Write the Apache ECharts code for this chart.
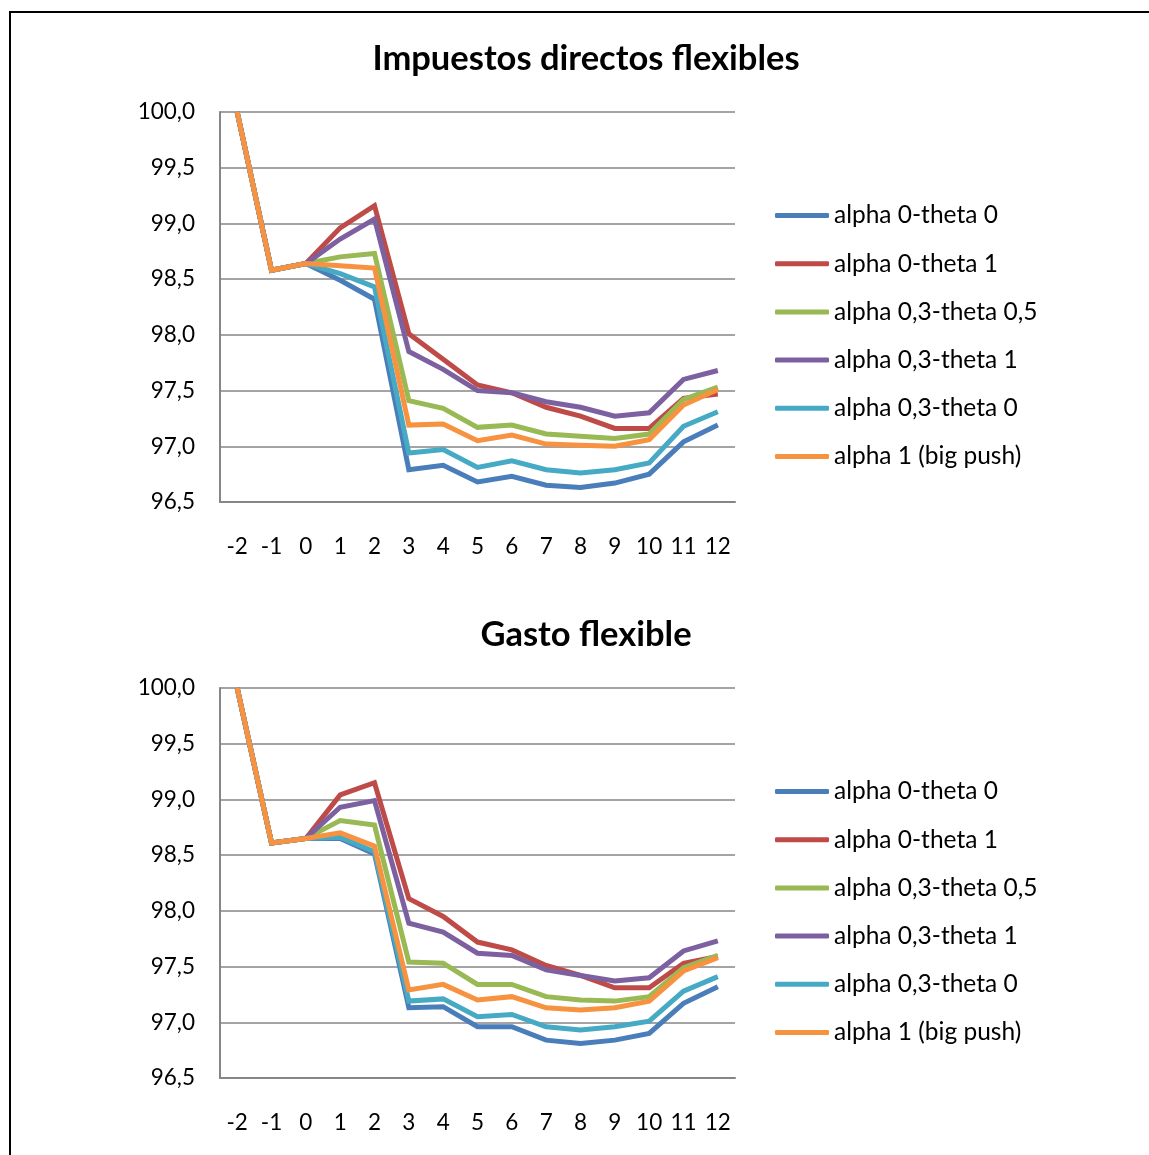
<!DOCTYPE html>
<html>
<head>
<meta charset="utf-8">
<script src="https://cdn.jsdelivr.net/npm/echarts@6/dist/echarts.min.js"></script>
<style>
  html, body { margin: 0; padding: 0; background: #ffffff; }
  #chart { width: 1149px; height: 1155px; }
</style>
</head>
<body>
<div id="chart"></div>
<script>
// Periods on the horizontal axis
const periods = ['-2', '-1', '0', '1', '2', '3', '4', '5', '6', '7', '8', '9', '10', '11', '12'];

const seriesNames = [
  'alpha 0-theta 0',
  'alpha 0-theta 1',
  'alpha 0,3-theta 0,5',
  'alpha 0,3-theta 1',
  'alpha 0,3-theta 0',
  'alpha 1 (big push)'
];

// Chart 1: Impuestos directos flexibles
const taxA0T0   = [100, 98.58, 98.64, 98.49, 98.32, 96.79, 96.83, 96.68, 96.73, 96.65, 96.63, 96.67, 96.75, 97.04, 97.19];
const taxA0T1   = [100, 98.58, 98.64, 98.96, 99.16, 98.01, 97.78, 97.55, 97.48, 97.35, 97.27, 97.16, 97.16, 97.43, 97.47];
const taxA03T05 = [100, 98.58, 98.64, 98.70, 98.73, 97.41, 97.34, 97.17, 97.19, 97.11, 97.09, 97.07, 97.11, 97.42, 97.53];
const taxA03T1  = [100, 98.58, 98.64, 98.86, 99.04, 97.85, 97.69, 97.50, 97.48, 97.40, 97.35, 97.27, 97.30, 97.60, 97.68];
const taxA03T0  = [100, 98.58, 98.64, 98.55, 98.43, 96.94, 96.97, 96.81, 96.87, 96.79, 96.76, 96.79, 96.85, 97.18, 97.31];
const taxA1     = [100, 98.58, 98.64, 98.62, 98.60, 97.19, 97.20, 97.05, 97.10, 97.02, 97.01, 97.00, 97.06, 97.37, 97.51];

// Chart 2: Gasto flexible
const spendA0T0   = [100, 98.61, 98.65, 98.65, 98.51, 97.13, 97.14, 96.96, 96.96, 96.84, 96.81, 96.84, 96.90, 97.17, 97.32];
const spendA0T1   = [100, 98.61, 98.65, 99.04, 99.15, 98.11, 97.95, 97.72, 97.65, 97.51, 97.42, 97.31, 97.31, 97.53, 97.59];
const spendA03T05 = [100, 98.61, 98.65, 98.81, 98.77, 97.54, 97.53, 97.34, 97.34, 97.23, 97.20, 97.19, 97.23, 97.49, 97.60];
const spendA03T1  = [100, 98.61, 98.65, 98.93, 98.99, 97.89, 97.81, 97.62, 97.60, 97.47, 97.42, 97.37, 97.40, 97.64, 97.73];
const spendA03T0  = [100, 98.61, 98.65, 98.66, 98.53, 97.19, 97.21, 97.05, 97.07, 96.96, 96.93, 96.96, 97.01, 97.28, 97.41];
const spendA1     = [100, 98.61, 98.65, 98.70, 98.58, 97.29, 97.34, 97.20, 97.23, 97.13, 97.11, 97.13, 97.19, 97.46, 97.58];

// Y axis range and step
const yMin = 96.5, yMax = 100, yStep = 0.5;

const taxData   = [taxA0T0, taxA0T1, taxA03T05, taxA03T1, taxA03T0, taxA1];
const spendData = [spendA0T0, spendA0T1, spendA03T05, spendA03T1, spendA03T0, spendA1];

const colors = ['#4A7EBB', '#BE4B48', '#98B954', '#7D60A0', '#46AAC5', '#F69240'];
const FONT = 'Lato';
const TEXT = '#000000';
const GRID_GRAY = '#868686';

function makeSeries(dataSets, idx) {
  return dataSets.map((d, i) => ({
    name: seriesNames[i],
    type: 'line',
    xAxisIndex: idx,
    yAxisIndex: idx,
    data: d,
    symbol: 'none',
    smooth: false,
    color: colors[i],
    lineStyle: { width: 5, color: colors[i], join: 'miter' },
    emphasis: { disabled: true },
    animation: false
  }));
}

function xAxis(idx) {
  return {
    type: 'category',
    gridIndex: idx,
    data: periods,
    boundaryGap: true,
    axisLine: { show: true, lineStyle: { color: GRID_GRAY, width: 2 } },
    axisTick: { show: false },
    axisLabel: { color: TEXT, fontFamily: FONT, fontSize: 22.5, margin: 33, interval: 0 }
  };
}

function yAxis(idx) {
  return {
    type: 'value',
    gridIndex: idx,
    min: yMin,
    max: yMax,
    interval: yStep,
    axisLine: { show: true, lineStyle: { color: GRID_GRAY, width: 2 } },
    axisTick: { show: false },
    splitLine: { show: true, lineStyle: { color: GRID_GRAY, width: 1.5 } },
    axisLabel: {
      color: TEXT, fontFamily: FONT, fontSize: 22.5, margin: 25,
      formatter: v => v.toFixed(1).replace('.', ',')
    }
  };
}

// Vertical legend beside each plot; short thick bar as the key
function legend(top) {
  return {
    orient: 'vertical',
    left: 775,
    top: top,
    padding: 0,
    itemWidth: 54,
    itemHeight: 5,
    itemGap: 23.2,
    icon: 'roundRect',
    data: seriesNames,
    selectedMode: false,
    textStyle: { color: TEXT, fontFamily: FONT, fontSize: 24.5, lineHeight: 20 }
  };
}

const chart = echarts.init(document.getElementById('chart'), null, { renderer: 'canvas' });

chart.setOption({
  animation: false,
  backgroundColor: '#ffffff',
  title: [
    {
      text: 'Impuestos directos flexibles',
      left: 581, top: 36, textAlign: 'center',
      textStyle: { fontFamily: FONT, fontWeight: 'bold', fontSize: 34.5, color: TEXT }
    },
    {
      text: 'Gasto flexible',
      left: 581, top: 612, textAlign: 'center',
      textStyle: { fontFamily: FONT, fontWeight: 'bold', fontSize: 34.5, color: TEXT }
    }
  ],
  legend: [legend(203), legend(779)],
  grid: [
    { left: 220, top: 112, width: 515, height: 390, containLabel: false },
    { left: 220, top: 688, width: 515, height: 390, containLabel: false }
  ],
  xAxis: [xAxis(0), xAxis(1)],
  yAxis: [yAxis(0), yAxis(1)],
  series: makeSeries(taxData, 0).concat(makeSeries(spendData, 1)),
  graphic: [
    {
      type: 'rect',
      shape: { x: 10, y: 12, width: 1160, height: 1170 },
      style: { fill: 'none', stroke: '#000000', lineWidth: 2 },
      silent: true
    }
  ]
});
</script>
</body>
</html>
